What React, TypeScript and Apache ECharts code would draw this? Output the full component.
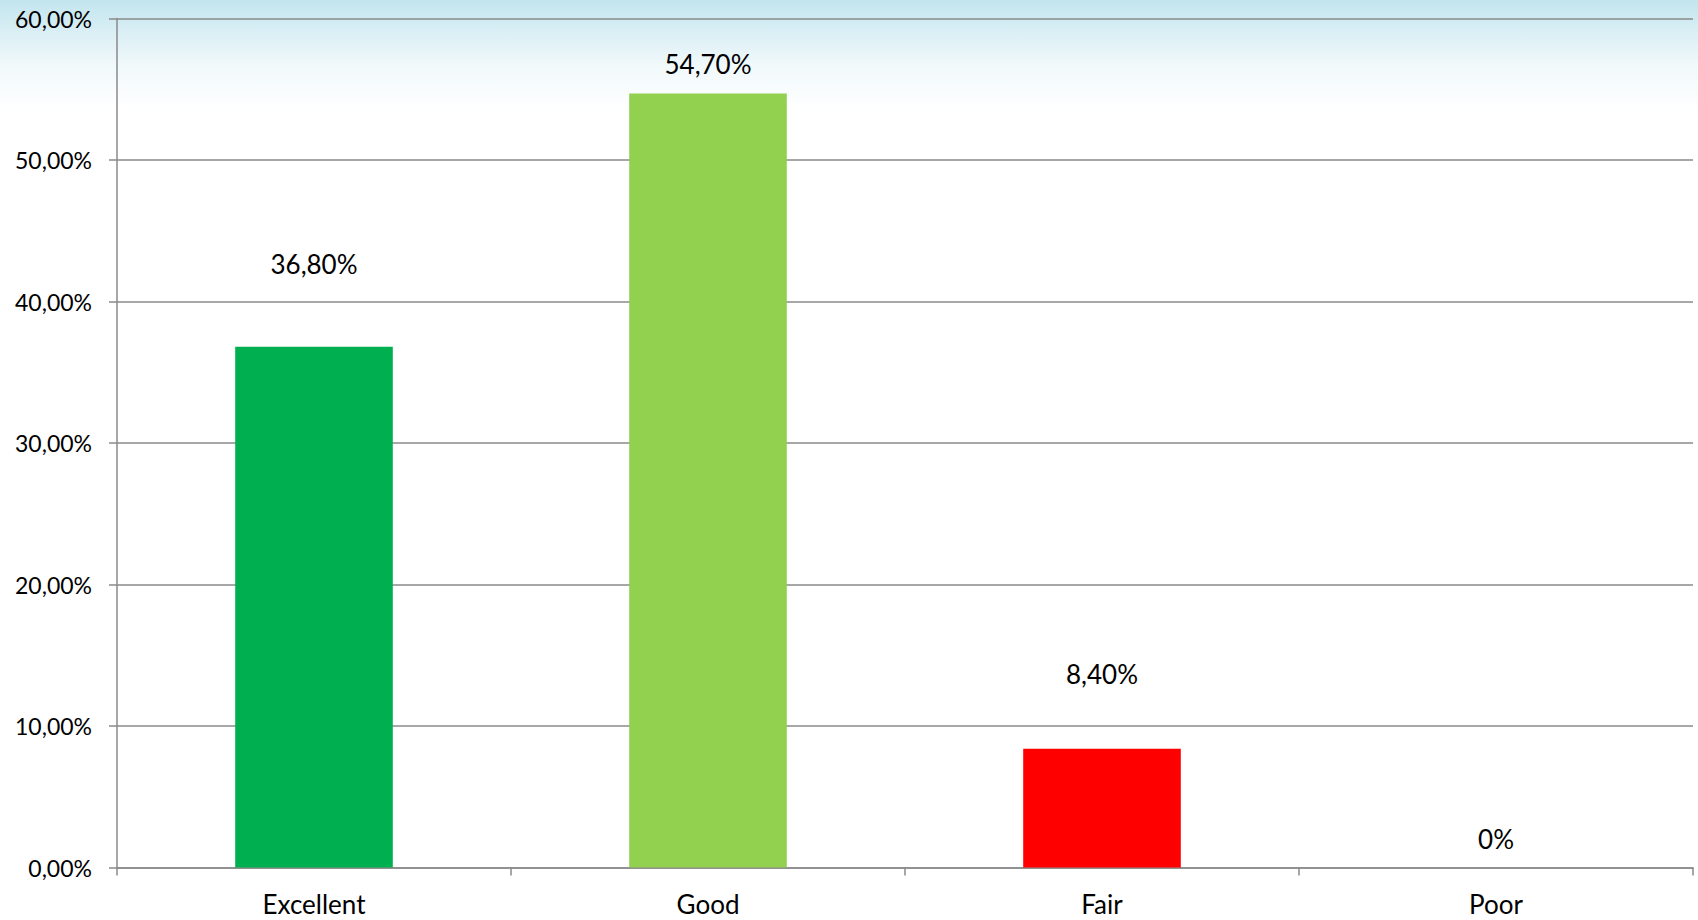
import React, { useEffect, useRef } from "react";
import * as echarts from "echarts";

const categories = ["Excellent", "Good", "Fair", "Poor"];
const values = [36.8, 54.7, 8.4, 0];
const barColors = ["#00B050", "#92D050", "#FF0000", "#7F7F7F"];
const labelDistances = [70, 16, 62, 16];
const yTicks = [0, 10, 20, 30, 40, 50, 60];

const FONT = "Lato";

function fmtAxis(v: number) {
  return v.toFixed(2).replace(".", ",") + "%";
}
function fmtLabel(v: number) {
  return v === 0 ? "0%" : v.toFixed(2).replace(".", ",") + "%";
}

export default function App() {
  const ref = useRef<HTMLDivElement>(null);
  useEffect(() => {
    if (!ref.current) return;
    const chart = echarts.init(ref.current, undefined, { renderer: "svg" });
    chart.setOption({
      animation: false,
      backgroundColor: "#ffffff",
      textStyle: { fontFamily: FONT },
      graphic: [
        {
          type: "rect",
          left: 0,
          top: 0,
          z: -10,
          silent: true,
          shape: { width: 1698, height: 110 },
          style: {
            fill: new echarts.graphic.LinearGradient(0, 0, 0, 1, [
              { offset: 0, color: "#c2e5ee" },
              { offset: 0.3, color: "#dbeff5" },
              { offset: 0.6, color: "#f1f9fb" },
              { offset: 1, color: "#ffffff" },
            ]),
          },
        },
      ],
      grid: { left: 117, right: 5, top: 18.5, bottom: 52.5, containLabel: false },
      xAxis: {
        type: "category",
        data: categories,
        axisLine: { show: true, lineStyle: { color: "#8a8a8a", width: 1.5 } },
        axisTick: { show: true, length: 8, alignWithLabel: false, lineStyle: { color: "#8a8a8a", width: 1.5 } },
        axisLabel: { color: "#000", fontSize: 26, fontFamily: FONT, margin: 23 },
        splitLine: { show: false },
      },
      yAxis: {
        type: "value",
        min: 0,
        max: 60,
        interval: 10,
        axisLine: { show: true, lineStyle: { color: "#8a8a8a", width: 1.5 } },
        axisTick: { show: true, length: 8, lineStyle: { color: "#8a8a8a", width: 1.5 } },
        axisLabel: {
          color: "#000",
          fontSize: 23,
          fontFamily: FONT,
          margin: 25,
          formatter: (v: number) => (yTicks.includes(v) ? fmtAxis(v) : ""),
        },
        splitLine: { show: true, lineStyle: { color: "#8a8a8a", width: 1.5 } },
      },
      series: [
        {
          type: "bar",
          barWidth: "40%",
          data: values.map((v, i) => ({
            value: v,
            itemStyle: { color: barColors[i] },
            label: {
              show: true,
              position: "top",
              distance: labelDistances[i],
              color: "#000",
              fontSize: 26,
              fontFamily: FONT,
              formatter: (p: any) => fmtLabel(p.value),
            },
          })),
        },
      ],
    });
    return () => chart.dispose();
  }, []);
  return (
    <div
      ref={ref}
      style={{ position: "fixed", left: 0, top: 0, width: 1698, height: 920 }}
    />
  );
}
